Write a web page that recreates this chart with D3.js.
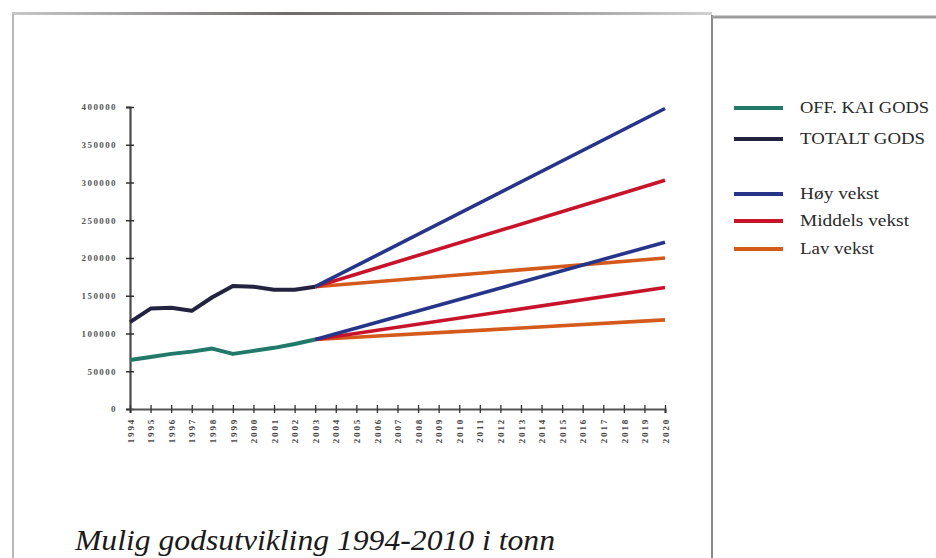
<!DOCTYPE html>
<html>
<head>
<meta charset="utf-8">
<script src="https://cdn.jsdelivr.net/npm/d3@7"></script>
<style>
  html, body { margin: 0; padding: 0; background: #ffffff; }
  svg { display: block; }
  .serif { font-family: "Liberation Serif", "Times New Roman", "DejaVu Serif", serif; }
</style>
</head>
<body>
<svg id="chart" width="936" height="558"></svg>
<script>
// Years on the horizontal axis
const years = [1994, 1995, 1996, 1997, 1998, 1999, 2000, 2001, 2002, 2003, 2004,
  2005, 2006, 2007, 2008, 2009, 2010, 2011, 2012, 2013, 2014, 2015, 2016,
  2017, 2018, 2019, 2020];

// Registered tonnage, 1994-2003
const historyYears = [1994, 1995, 1996, 1997, 1998, 1999, 2000, 2001, 2002, 2003];
const offKaiGods = [65000, 69000, 73000, 76000, 80000, 73000, 77000, 81000, 86000, 92000];
const totaltGods = [115000, 133000, 134000, 130000, 148000, 163000, 162000, 158000, 158000, 162000];

// Growth scenarios from 2003 to 2020 (start and end value)
const scenarioYears = [2003, 2020];
const totalHoy = [162000, 398000];
const totalMiddels = [162000, 303000];
const totalLav = [162000, 200000];
const offHoy = [92000, 221000];
const offMiddels = [92000, 161000];
const offLav = [92000, 118000];

const yTicks = [0, 50000, 100000, 150000, 200000, 250000, 300000, 350000, 400000];

const legendItems = ["OFF. KAI GODS", "TOTALT GODS", "Høy vekst", "Middels vekst", "Lav vekst"];
const title = "Mulig godsutvikling 1994-2010 i tonn";

const colors = {
  off: "#22796a",
  total: "#23233f",
  hoy: "#26358a",
  middels: "#c8142a",
  lav: "#d45a1c"
};

const svg = d3.select("#chart");

// Page frame
const frame = svg.append("g").attr("fill", "none");
const topGrad = svg.append("defs").append("linearGradient").attr("id", "topEdge");
topGrad.append("stop").attr("offset", "0%").attr("stop-color", "#c8c8c8");
topGrad.append("stop").attr("offset", "40%").attr("stop-color", "#6e6a6a");
topGrad.append("stop").attr("offset", "75%").attr("stop-color", "#9a9898");
topGrad.append("stop").attr("offset", "100%").attr("stop-color", "#d0d0d0");
frame.append("rect").attr("x", 12).attr("y", 12).attr("width", 700).attr("height", 3)
  .attr("fill", "url(#topEdge)");
frame.append("line").attr("x1", 13).attr("x2", 13).attr("y1", 14).attr("y2", 558)
  .attr("stroke", "#b8b8b8").attr("stroke-width", 2);
frame.append("line").attr("x1", 712).attr("x2", 712).attr("y1", 15).attr("y2", 558)
  .attr("stroke", "#8a8a8a").attr("stroke-width", 2);
frame.append("line").attr("x1", 712).attr("x2", 936).attr("y1", 17).attr("y2", 17)
  .attr("stroke", "#9c9c9c").attr("stroke-width", 3);

const x = d3.scaleLinear().domain([1994, 2020]).range([130, 665]);
const y = d3.scaleLinear().domain([0, 400000]).range([409, 107]);

// Y axis
const yAxis = svg.append("g")
  .attr("transform", `translate(${x(1994)},0)`)
  .call(d3.axisLeft(y).tickValues(yTicks).tickFormat(d3.format("d")).tickSize(4).tickPadding(9));
yAxis.select(".domain").attr("stroke", "#4a4a4a").attr("stroke-width", 2.2);
yAxis.selectAll(".tick line").attr("x1", -4).attr("x2", 4).attr("stroke", "#333").attr("stroke-width", 1.5);
yAxis.selectAll(".tick text")
  .attr("class", "serif")
  .attr("font-size", 9).attr("font-weight", "bold")
  .attr("letter-spacing", 1.4).attr("fill", "#555");

// X axis
const xAxis = svg.append("g")
  .attr("transform", `translate(0,${y(0)})`)
  .call(d3.axisBottom(x).tickValues(years).tickFormat(d3.format("d")).tickSize(4));
xAxis.select(".domain").attr("stroke", "#555").attr("stroke-width", 2.2);
xAxis.selectAll(".tick line").attr("y1", -4).attr("y2", 4).attr("stroke", "#333").attr("stroke-width", 1.3);
xAxis.selectAll(".tick text")
  .attr("class", "serif")
  .attr("font-size", 9).attr("font-weight", "bold")
  .attr("letter-spacing", 1.8).attr("fill", "#444")
  .attr("text-anchor", "end")
  .attr("dy", "0.35em")
  .attr("transform", "translate(0,9) rotate(-90)")
  .attr("x", 0).attr("y", 0);

const line = d3.line().x(d => x(d[0])).y(d => y(d[1]));
const pairs = (xs, vs) => xs.map((v, i) => [v, vs[i]]);

function drawLine(xs, vs, color, w) {
  svg.append("path")
    .datum(pairs(xs, vs))
    .attr("fill", "none")
    .attr("stroke", color)
    .attr("stroke-width", w)
    .attr("stroke-linejoin", "round")
    .attr("d", line);
}

drawLine(historyYears, totaltGods, colors.total, 4);
drawLine(historyYears, offKaiGods, colors.off, 4);

drawLine(scenarioYears, totalLav, colors.lav, 3.6);
drawLine(scenarioYears, offLav, colors.lav, 3.6);
drawLine(scenarioYears, totalMiddels, colors.middels, 3.6);
drawLine(scenarioYears, offMiddels, colors.middels, 3.6);
drawLine(scenarioYears, totalHoy, colors.hoy, 3.6);
drawLine(scenarioYears, offHoy, colors.hoy, 3.6);

// Legend
const legendColors = [colors.off, colors.total, colors.hoy, colors.middels, colors.lav];
const legendY = [108, 139, 194, 221, 249];
const legendWidths = [129, 125, 79, 109, 74];
const legend = svg.append("g");
legendItems.forEach((label, i) => {
  legend.append("line")
    .attr("x1", 734).attr("x2", 783)
    .attr("y1", legendY[i]).attr("y2", legendY[i])
    .attr("stroke", legendColors[i]).attr("stroke-width", 4);
  legend.append("text")
    .attr("class", "serif")
    .attr("x", 800).attr("y", legendY[i] - 1)
    .attr("dy", "0.35em")
    .attr("font-size", 16)
    .attr("fill", "#2a2a2a")
    .attr("textLength", legendWidths[i])
    .attr("lengthAdjust", "spacingAndGlyphs")
    .text(label);
});

// Caption
svg.append("text")
  .attr("class", "serif")
  .attr("x", 75).attr("y", 550)
  .attr("font-style", "italic")
  .attr("font-size", 29)
  .attr("fill", "#1a1a1a")
  .attr("textLength", 480)
  .attr("lengthAdjust", "spacingAndGlyphs")
  .text(title);
</script>
</body>
</html>
